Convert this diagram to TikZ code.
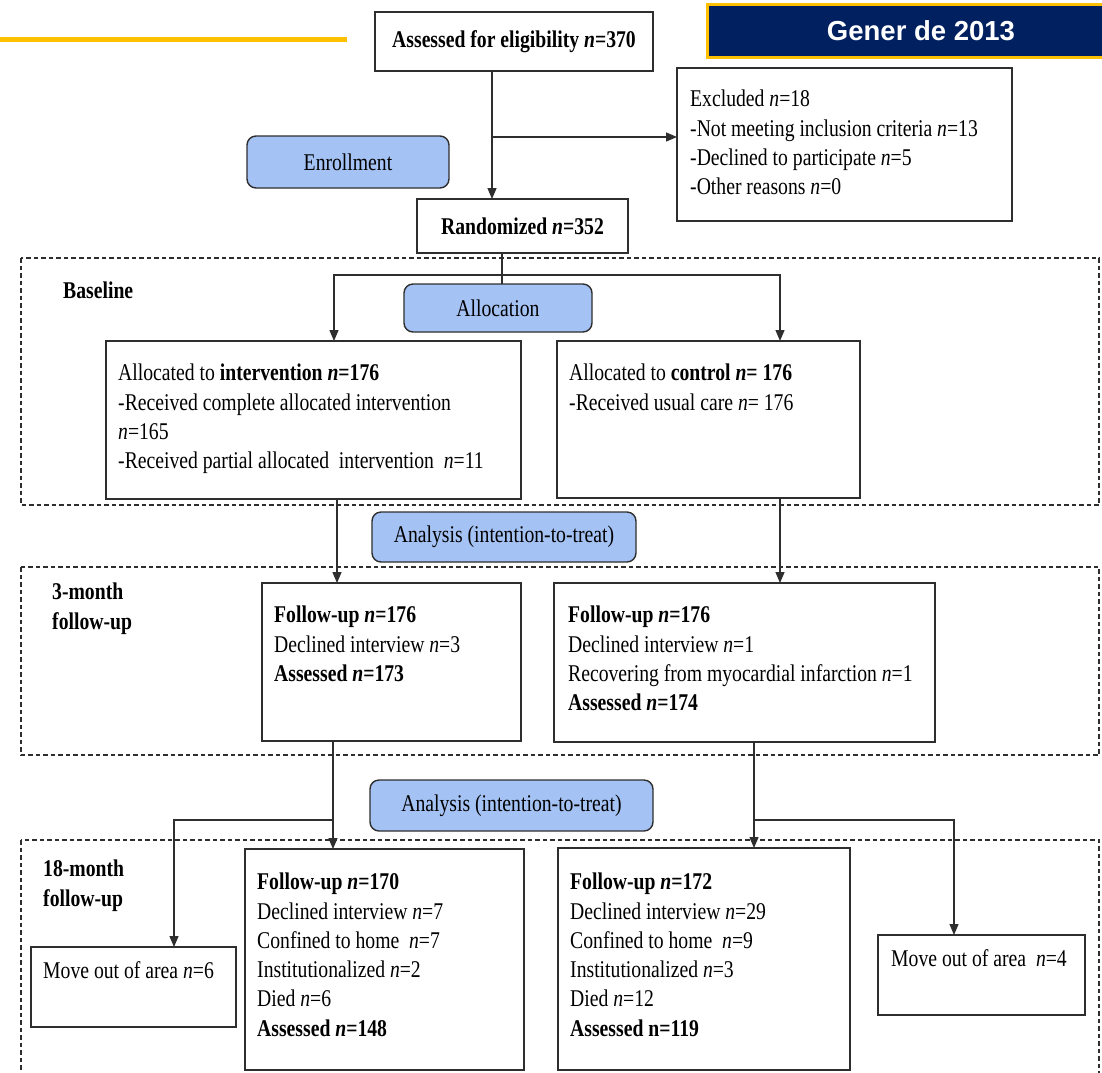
\documentclass[tikz,border=0pt]{standalone}
\usepackage{fontspec}
\setmainfont{Liberation Serif}[FakeStretch=0.82]
\newfontfamily\bannerfont{Liberation Sans}
\usetikzlibrary{arrows.meta}
\definecolor{navy}{HTML}{002060}
\definecolor{gold}{HTML}{FFC000}
\definecolor{phase}{HTML}{A4C2F4}
\definecolor{ink}{HTML}{2E2E2E}
\newcommand{\nn}{\textit{n}}
\newcommand{\bodyfont}{\fontsize{24}{29.3}\selectfont}

\begin{document}
\begin{tikzpicture}[x=1pt,y=-1pt,
  box/.style={draw=ink, line width=1.4pt, fill=white, inner sep=0pt, outer sep=0pt},
  phasebox/.style={box, fill=phase, rounded corners=9pt},
  txt/.style={anchor=north west, inner sep=0pt, align=left, font=\bodyfont},
  frame/.style={draw=ink, line width=1.2pt, dash pattern=on 4.5pt off 3pt},
  link/.style={draw=ink, line width=1.3pt},
  arr/.style={link, -{Triangle[length=11pt,width=9pt]}},
  font=\bodyfont]

\useasboundingbox (0,0) rectangle (1102,1072);
\clip (0,0) rectangle (1102,1072);

% header rule and banner
\draw[gold, line width=5pt] (0,39) -- (347,39);
\node[draw=gold, fill=navy, line width=3pt, minimum width=428pt, minimum height=53pt,
      inner sep=0pt, text=white, font=\bannerfont\bfseries\fontsize{27.5}{31}\selectfont]
      (banner) at (921,30.5) {Gener de 2013};

% study phase frames
\draw[frame] (21,258) rectangle (1099,505);
\draw[frame] (21,567) rectangle (1099,755);
\draw[frame] (21,840) rectangle (1099,1090);

% enrollment
\node[box, minimum width=278pt, minimum height=59pt, font=\bodyfont\bfseries] (assess) at (514,41.5) {Assessed for eligibility \nn=370};
\node[box, minimum width=335pt, minimum height=153pt] (excl) at (844.5,144.5) {};
\node[txt] (t-excl) at (690,86) {\strut Excluded \nn=18\\-Not meeting inclusion criteria \nn=13\\-Declined to participate \nn=5\\-Other reasons \nn=0};
\node[phasebox, minimum width=202pt, minimum height=52pt] (enroll) at (348,162) {Enrollment};
\node[box, minimum width=211pt, minimum height=54pt, font=\bodyfont\bfseries] (rand) at (522.5,226) {Randomized \nn=352};

% baseline
\node[txt, font=\bodyfont\bfseries] (l-base) at (63,278) {\strut Baseline};
\node[phasebox, minimum width=188pt, minimum height=48pt] (alloc) at (498,308) {Allocation};
\node[box, minimum width=415pt, minimum height=158pt] (interv) at (313.5,420) {};
\node[txt] (t-interv) at (118,360) {\strut Allocated to \textbf{intervention \nn=176}\\-Received complete allocated intervention\\\nn=165\\-Received partial allocated~ intervention~ \nn=11};
\node[box, minimum width=303pt, minimum height=157pt] (ctrl) at (708.5,419.5) {};
\node[txt] (t-ctrl) at (569,360) {\strut Allocated to \textbf{control \nn= 176}\\-Received usual care \nn= 176};

\node[phasebox, minimum width=264pt, minimum height=50pt] (ana1) at (504,537) {Analysis (intention-to-treat)};

% 3-month follow-up
\node[txt, font=\bodyfont\bfseries] (l-m3) at (52,579) {\strut 3-month\\follow-up};
\node[box, minimum width=259pt, minimum height=158pt] (fl3) at (391.5,662) {};
\node[txt] (t-fl3) at (274,602) {\strut\textbf{Follow-up \nn=176}\\Declined interview \nn=3\\\textbf{Assessed \nn=173}};
\node[box, minimum width=381pt, minimum height=159pt] (fr3) at (744.5,662.5) {};
\node[txt] (t-fr3) at (568,602) {\strut\textbf{Follow-up \nn=176}\\Declined interview \nn=1\\Recovering from myocardial infarction \nn=1\\\textbf{Assessed \nn=174}};

\node[phasebox, minimum width=283pt, minimum height=51pt] (ana2) at (511.5,805.5) {Analysis (intention-to-treat)};

% 18-month follow-up
\node[txt, font=\bodyfont\bfseries] (l-m18) at (43,856) {\strut 18-month\\follow-up};
\node[box, minimum width=205pt, minimum height=80pt] (mvl) at (133.5,987) {};
\node[txt] (t-mvl) at (43,958) {\strut Move out of area \nn=6};
\node[box, minimum width=279pt, minimum height=221pt] (fl18) at (384.5,959.5) {};
\node[txt] (t-fl18) at (257,869) {\strut\textbf{Follow-up \nn=170}\\Declined interview \nn=7\\Confined to home~ \nn=7\\Institutionalized \nn=2\\Died \nn=6\\\textbf{Assessed \nn=148}};
\node[box, minimum width=292pt, minimum height=222pt] (fr18) at (704,959) {};
\node[txt] (t-fr18) at (570,869) {\strut\textbf{Follow-up \nn=172}\\Declined interview \nn=29\\Confined to home~ \nn=9\\Institutionalized \nn=3\\Died \nn=12\\\textbf{Assessed n=119}};
\node[box, minimum width=207pt, minimum height=80pt] (mvr) at (981.5,975) {};
\node[txt] (t-mvr) at (891,946) {\strut Move out of area~ \nn=4};

% connectors
\coordinate (j1) at (492,137);
\draw[arr] (assess.south -| j1) -- (rand.north -| j1);
\draw[arr] (j1) -- (excl.west |- j1);

\coordinate (j2) at (502,275);
\draw[link] (rand.south -| j2) -- (alloc.north -| j2);
\draw[arr] (j2) -| ([xshift=20.5pt]interv.north);
\draw[arr] (j2) -| ([xshift=71.5pt]ctrl.north);

\draw[arr] ([xshift=23.5pt]interv.south) -- ([xshift=-54.5pt]fl3.north);
\draw[arr] ([xshift=71.5pt]ctrl.south) -- ([xshift=35.5pt]fr3.north);

\coordinate (j3) at (333,820);
\draw[arr] ([xshift=-58.5pt]fl3.south) -- ([xshift=-51.5pt]fl18.north);
\draw[arr] (j3) -| ([xshift=40.5pt]mvl.north);
\coordinate (j4) at (754,820);
\draw[arr] ([xshift=9.5pt]fr3.south) -- ([xshift=50pt]fr18.north);
\draw[arr] (j4) -| ([xshift=-27.5pt]mvr.north);
\end{tikzpicture}
\end{document}
